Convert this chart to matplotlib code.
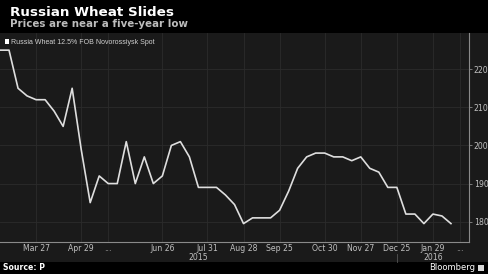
import matplotlib
matplotlib.use("Agg")
import matplotlib.pyplot as plt
from matplotlib.patches import Rectangle

# ---- data (weekly observations, categorical index positions) ----
prices = [225, 225, 215, 213, 212, 212, 209, 205, 215, 199,
          185, 192, 190, 190, 201, 190, 197, 190, 192, 200,
          201, 197, 189, 189, 189, 187, 184.5, 179.5, 181, 181,
          181, 183, 188, 194, 197, 198, 198, 197, 197, 196,
          197, 194, 193, 189, 189, 182, 182, 179.5, 182, 181.5,
          179.5]
tick_idx = [4, 9, 12, 18, 23, 27, 31, 36, 40, 44, 48, 51]
tick_labels = ["Mar 27", "Apr 29", "...", "Jun 26", "Jul 31", "Aug 28",
               "Sep 25", "Oct 30", "Nov 27", "Dec 25", "Jan 29", "..."]
year_idx = [22, 48]
year_labels = ["2015", "2016"]
y_ticks = [180, 190, 200, 210, 220]

title = "Russian Wheat Slides"
subtitle = "Prices are near a five-year low"
series_name = "Russia Wheat 12.5% FOB Novorossiysk Spot"

W, H = 488, 274
fig = plt.figure(figsize=(W / 100, H / 100), dpi=100, facecolor="black")

def fx(px):
    return px / W

def fy(py):
    return 1 - py / H

# dark panel behind chart and axis labels
fig.patches.append(Rectangle((0, fy(262)), 1, fy(33) - fy(262),
                             transform=fig.transFigure, facecolor="#1a1a1a",
                             edgecolor="none", zorder=-5))

ax = fig.add_axes([0, fy(241.7), fx(469), fy(33) - fy(241.7)])
ax.set_zorder(1)
ax.set_facecolor("#1a1a1a")
ax.plot(range(len(prices)), prices, color="#dedede", lw=1.2, zorder=3)
ax.set_xlim(0, 52)
ax.set_ylim(174.75, 229.5)

for s in ["left", "top"]:
    ax.spines[s].set_visible(False)
for s in ["right", "bottom"]:
    ax.spines[s].set_color("#8a8a8a")
    ax.spines[s].set_linewidth(0.8)

ax.yaxis.tick_right()
ax.set_yticks(y_ticks)
ax.set_yticklabels([str(v) for v in y_ticks])
ax.tick_params(axis="y", colors="#8a8a8a", labelcolor="#c0c0c0",
               labelsize=5.6, length=2.5, width=0.6, pad=1)
ax.set_xticks(tick_idx)
ax.set_xticklabels(tick_labels)
ax.tick_params(axis="x", length=0, labelcolor="#c0c0c0", labelsize=5.6, pad=1.5)

ax.grid(True, color="#2b2b2b", lw=0.6, zorder=0)

# year labels below ticks
for xi, lab in zip(year_idx, year_labels):
    ax.text(xi, -0.074, lab, transform=ax.get_xaxis_transform(),
            ha="center", va="center", color="#c0c0c0", fontsize=5.6)
ax.plot([44, 44], [-0.06, -0.095], transform=ax.get_xaxis_transform(),
        color="#555555", lw=0.6, clip_on=False)

# header
fig.text(fx(10), fy(15.5), title, color="white", fontsize=9.7,
         fontweight="bold", va="baseline", ha="left")
fig.text(fx(10), fy(27), subtitle, color="#bdbdbd", fontsize=7.4,
         fontweight="bold", va="baseline", ha="left")

# legend
fig.patches.append(Rectangle((fx(5), fy(44)), fx(4), fy(39) - fy(44),
                             transform=fig.transFigure, facecolor="white",
                             edgecolor="none", zorder=5))
fig.text(fx(11), fy(44.3), series_name, color="#d0d0d0", fontsize=5.0,
         family="Liberation Sans", va="baseline", ha="left", zorder=5)

# footer
fig.text(fx(3), fy(268), "Source: P", color="white", fontsize=5.6,
         fontweight="bold", va="center", ha="left")
fig.text(fx(475), fy(268), "Bloomberg", color="white", fontsize=6.0,
         va="center", ha="right")
fig.patches.append(Rectangle((fx(478), fy(271)), fx(6), fy(265) - fy(271),
                             transform=fig.transFigure, facecolor="#d8d8d8",
                             edgecolor="none", zorder=5))

fig.savefig("out.png", dpi=100, facecolor="black")
